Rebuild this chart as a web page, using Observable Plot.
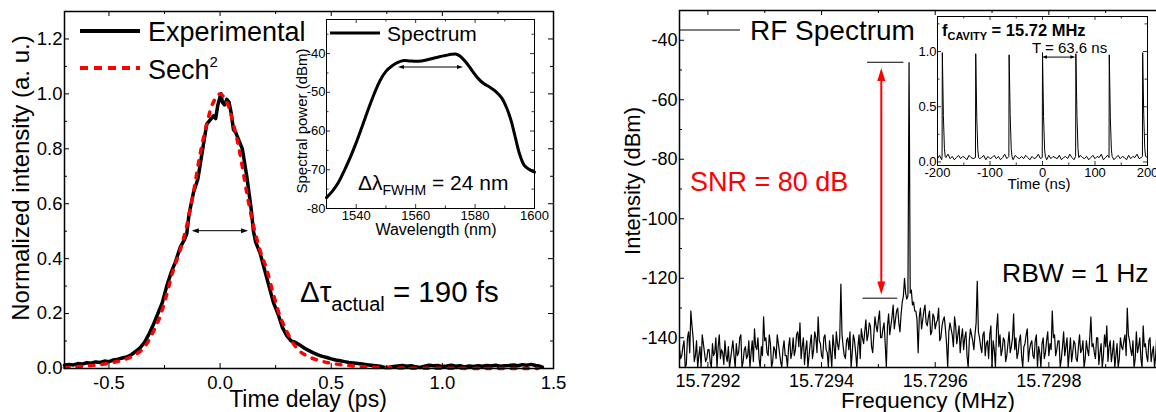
<!DOCTYPE html>
<html>
<head>
<meta charset="utf-8">
<script src="https://cdn.jsdelivr.net/npm/d3@7"></script>
<script src="https://cdn.jsdelivr.net/npm/@observablehq/plot@0.6"></script>
<style>
  html, body { margin: 0; padding: 0; background: #fff; overflow: hidden; }
  #wrap { position: relative; width: 1156px; height: 412px; overflow: hidden; background: #fff; }
  #wrap > svg { position: absolute; }
</style>
</head>
<body>
<div id="wrap"></div>
<script>
const FONT = '"Liberation Sans", Arial, Helvetica, sans-serif';

// ---------------- Left panel: autocorrelation trace ----------------
const acTime = [-0.70,-0.68,-0.66,-0.64,-0.62,-0.60,-0.58,-0.56,-0.54,-0.52,-0.50,-0.48,-0.46,-0.44,-0.42,-0.40,-0.38,-0.36,-0.34,-0.32,
  -0.30,-0.28,-0.26,-0.24,-0.22,-0.20,-0.18,-0.16,-0.15,-0.14,-0.12,-0.10,-0.09,-0.08,-0.06,-0.04,-0.03,-0.02,-0.01,0.00,0.005,
  0.01,0.02,0.03,0.04,0.05,0.06,0.07,0.08,0.10,0.12,0.14,0.15,0.16,0.18,0.20,0.22,0.24,0.26,0.28,0.30,0.32,0.34,0.36,0.38,
  0.40,0.42,0.44,0.46,0.48,0.50,0.52,0.54,0.56,0.58,0.60,0.62,0.64,0.66,0.68,0.70,0.72,0.74,0.76,0.78,0.80,0.82,0.84,0.86,0.88,
  0.90,0.92,0.94,0.96,0.98,1.00,1.02,1.04,1.06,1.08,1.10,1.12,1.14,1.16,1.18,1.20,1.22,1.24,1.26,1.28,1.30,1.32,1.34,1.36,1.38,
  1.40,1.42,1.44,1.45];
const acExp = [0.012,0.015,0.013,0.018,0.016,0.021,0.019,0.024,0.022,0.027,0.025,0.031,0.034,0.038,0.042,0.050,0.062,0.075,0.095,0.125,
  0.16,0.20,0.24,0.30,0.35,0.39,0.44,0.47,0.49,0.56,0.64,0.69,0.74,0.79,0.89,0.91,0.92,0.91,0.96,0.99,1.00,
  0.97,0.96,0.98,0.97,0.93,0.87,0.86,0.84,0.80,0.70,0.58,0.50,0.46,0.42,0.36,0.30,0.24,0.20,0.15,0.12,0.10,0.095,0.085,0.074,
  0.065,0.057,0.050,0.044,0.040,0.035,0.031,0.028,0.025,0.022,0.020,0.018,0.016,0.014,0.012,0.010,0.008,0.004,0.005,0.007,0.009,0.011,0.008,0.010,0.006,
  0.004,0.008,0.012,0.010,0.011,0.007,0.009,0.012,0.008,0.010,0.006,0.009,0.007,0.010,0.008,0.011,0.009,0.012,0.008,0.010,0.011,0.013,0.010,0.014,0.012,
  0.015,0.011,0.008,0.005];
const fitTime = [-0.70,-0.65,-0.60,-0.55,-0.50,-0.45,-0.40,-0.36,-0.33,-0.30,-0.27,-0.24,-0.21,-0.18,-0.15,-0.12,-0.09,-0.06,-0.03,0.00,
  0.03,0.06,0.09,0.12,0.15,0.18,0.21,0.24,0.27,0.30,0.33,0.36,0.40,0.45,0.50,0.55,0.60,0.65,0.70,0.80,0.90,1.00,1.20,1.43];
const fitSech = [0.004,0.006,0.009,0.013,0.019,0.028,0.042,0.062,0.090,0.135,0.19,0.27,0.36,0.43,0.52,0.64,0.78,0.89,0.97,1.00,
  0.97,0.89,0.78,0.64,0.52,0.43,0.36,0.27,0.19,0.135,0.090,0.062,0.042,0.028,0.019,0.013,0.009,0.006,0.004,0.002,0.001,0.001,0.000,0.000];
const acXTicks = [-0.5, 0.0, 0.5, 1.0, 1.5];
const acXMinor = [-0.25, 0.25, 0.75, 1.25];
const acYTicks = [0.0, 0.2, 0.4, 0.6, 0.8, 1.0, 1.2];
const acYMinor = [0.1, 0.3, 0.5, 0.7, 0.9, 1.1];
const acFwhm = {x1: -0.125, x2: 0.128, y: 0.5};

// ---------------- Left inset: optical spectrum ----------------
const specWl = [1530,1532,1534,1536,1538,1540,1542,1544,1546,1548,1550,1552,1554,1556,1558,1560,1562,1564,1566,1568,1570,1572,1573.5,
  1575,1577,1579,1581,1583,1585,1587,1589,1590.5,1592,1593.5,1595,1596.5,1598,1600];
const specDb = [-77.2,-75.5,-73.3,-70.2,-66.8,-63.0,-58.8,-54.5,-50.5,-47.0,-44.6,-43.2,-42.3,-41.8,-41.9,-42.0,-41.9,-41.6,-41.2,-40.8,-40.5,-40.2,-40.1,
  -40.7,-42.3,-44.4,-46.4,-47.8,-48.7,-49.8,-51.5,-53.8,-57.0,-61.5,-66.0,-68.8,-69.8,-70.6];
const specXTicks = [1540, 1560, 1580, 1600];
const specXMinor = [1550, 1570, 1590];
const specYTicks = [-80, -70, -60, -50, -40];
const specYMinor = [-75, -65, -55, -45, -35];
const specFwhm = {x1: 1554.2, x2: 1576.1, y: -43.6};

// ---------------- Right panel: RF spectrum ----------------
// samples every 2 Hz from 15.72915 MHz: rfDb holds the even samples, rfMid the samples in between
const rfStart = 15.72915, rfStep = 0.000002;
const rfDb = [
  -144,-146,-141,-149,-138,-131,-140,-146,-150,-143,-139,-145,-147,
  -144,-150,-146,-140,-143,-147,-145,-141,-148,-150,-144,-146,
  -142,-145,-139,-148,-143,-146,-150,-141,-137,-144,-147,-143,
  -133,-140,-146,-142,-148,-144,-139,-145,-150,-141,-146,-143,-147,
  -140,-144,-138,-135,-143,-149,-141,-146,-139,-144,-140,-133,
  -142,-147,-139,-145,-141,-150,-143,-138,-144,
  -122,
  -143,-147,-140,-138,-145,-141,-150,-139,-137,
  -142,-134,-139,-136,-145,-133,-138,-131,-140,-135,-150,-132,
  -136,-129,-134,-130,-138,
  -128,-120,-127,-47.5,-124,-128,
  -131,-145,-130,-134,-129,-136,-131,-138,-133,-135,-130,-140,-134,-137,-150,
  -135,-139,-133,-142,-136,-140,-144,-138,-150,-137,-141,-139,
  -121,
  -140,-145,-138,-142,-147,-136,-141,-150,-132,-139,-144,-141,-146,-138,-143,
  -132,-140,-145,-139,-150,-142,-137,-144,-141,-147,-139,-143,-150,-140,-145,-138,-142,
  -131,
  -139,-144,-141,-147,-138,-143,-150,-140,-145,-142,-148,-139,-144,-150,-141,-146,
  -133,
  -142,-147,-140,-145,-150,-139,-136,-143,-148,-141,-146,-150,-140,-144,-139,
  -130,
  -141,-146,-150,-138,-143,-147,-136,-142,-148,-140,-145,-150,-139,-144,-141];
const rfMid = [
  -147,-143,-150,-140,-145,-136,-148,-141,-146,-150,-142,-148,-144,
  -148,-142,-145,-150,-139,-144,-149,-146,-143,-147,-141,-150,
  -146,-140,-150,-144,-147,-141,-145,-148,-143,-140,-150,-146,
  -141,-145,-139,-150,-143,-147,-142,-148,-144,-146,-150,-140,-145,
  -146,-139,-143,-147,-140,-144,-150,-142,-147,-138,-145,-141,
  -146,-140,-144,-150,-145,-139,-147,-142,-140,
  -139,
  -146,-141,-144,-150,-139,-145,-143,-147,-140,
  -138,-141,-135,-143,-139,-136,-134,-140,-137,-142,-136,-139,
  -133,-137,-131,-135,-132,
  -126,-125,-126,-125,-129,-131,
  -134,-133,-137,-131,-135,-133,-139,-132,-137,-134,-141,-136,-133,-142,-138,
  -137,-143,-136,-139,-145,-137,-140,-146,-141,-139,-144,-135,
  -138,
  -143,-139,-146,-141,-139,-150,-144,-137,-143,-146,-140,-148,-142,-145,-140,
  -144,-147,-141,-146,-143,-139,-148,-142,-146,-141,-150,-145,-142,-147,-141,-146,-144,
  -140,
  -146,-141,-150,-143,-146,-140,-145,-148,-141,-147,-143,-145,-141,-147,-144,-140,
  -143,
  -145,-140,-149,-142,-146,-143,-148,-141,-145,-150,-142,-147,-143,-141,-146,
  -139,
  -144,-141,-147,-145,-140,-150,-143,-146,-141,-148,-143,-146,-150,-142];
const rfXTicks = [15.7292, 15.7294, 15.7296, 15.7298];
const rfXMinor = [15.7293, 15.7295, 15.7297, 15.7299];
const rfYTicks = [-140, -120, -100, -80, -60, -40];
const rfYMinor = [-130, -110, -90, -70, -50];
const snrLines = [{y: -47.4, x1: 15.729481, x2: 15.729545}, {y: -126.7, x1: 15.729473, x2: 15.729534}];
const snrArrow = {x: 15.729506, y1: -49.5, y2: -125.6};

// ---------------- Right inset: pulse train ----------------
const ptStart = -200, ptStep = 4;
const ptBase = [0.03,0.06,0.02,0.05,0.04,0.07,0.03,0.05,0.02,0.04,
  0.06,0.03,0.05,0.04,0.02,0.06,0.04,0.03,0.05,0.07,
  0.03,0.04,0.06,0.02,0.05,0.03,0.04,0.06,0.03,0.05,
  0.02,0.04,0.07,0.03,0.05,0.04,0.02,0.06,0.04,0.03,
  0.05,0.03,0.06,0.04,0.02,0.05,0.03,0.04,0.07,0.03,
  0.05,0.04,0.02,0.06,0.03,0.05,0.04,0.03,0.06,0.02,
  0.04,0.05,0.03,0.07,0.04,0.02,0.05,0.03,0.06,0.04,
  0.03,0.05,0.02,0.04,0.06,0.03,0.05,0.04,0.07,0.02,
  0.04,0.06,0.03,0.05,0.02,0.04,0.06,0.03,0.05,0.04,
  0.02,0.06,0.03,0.05,0.04,0.07,0.03,0.04,0.06,0.02,
  0.04];
const ptPeakT = [-191.3,-190.8,-188.8,-186.8,-185.3, -127.7,-127.2,-125.2,-123.2,-121.7, -64.1,-63.6,-61.6,-59.6,-58.1,
  -0.5,0,2,4,5.5, 63.1,63.6,65.6,67.6,69.1, 126.7,127.2,129.2,131.2,132.7, 190.3,190.8,192.8,194.8,196.3];
const ptPeakV = [0.05,0.99,0.42,0.12,0.05, 0.04,0.98,0.40,0.11,0.04, 0.05,0.97,0.43,0.12,0.05,
  0.04,0.99,0.41,0.11,0.05, 0.05,0.98,0.42,0.12,0.04, 0.04,0.97,0.40,0.11,0.05, 0.05,0.99,0.43,0.12,0.05];
const ptXTicks = [-200, -100, 0, 100, 200];
const ptXMinor = [-150, -50, 50, 150];
const ptYTicks = [0.0, 0.5, 1.0];
const ptYMinor = [0.25, 0.75, 1.25];
const periodArrow = {x1: 0, x2: 63.6, y: 0.945};

// ---------------- helpers ----------------
const wrap = document.getElementById("wrap");
function place(svg, left, top) {
  svg.style.position = "absolute";
  svg.style.left = left + "px";
  svg.style.top = top + "px";
  wrap.appendChild(svg);
  return svg;
}
function frameTicks(plotW, plotH, xMaj, xMin, yMaj, yMin, maj, min, sw) {
  const o = {stroke: "#000", strokeWidth: sw};
  return [
    Plot.tickX(xMaj, {...o, x: d => d, insetTop: plotH - maj}),
    Plot.tickX(xMaj, {...o, x: d => d, insetBottom: plotH - maj}),
    Plot.tickX(xMin, {...o, x: d => d, insetTop: plotH - min}),
    Plot.tickX(xMin, {...o, x: d => d, insetBottom: plotH - min}),
    Plot.tickY(yMaj, {...o, y: d => d, insetRight: plotW - maj}),
    Plot.tickY(yMaj, {...o, y: d => d, insetLeft: plotW - maj}),
    Plot.tickY(yMin, {...o, y: d => d, insetRight: plotW - min}),
    Plot.tickY(yMin, {...o, y: d => d, insetLeft: plotW - min})
  ];
}
function dblArrow(svg, a, opt) {
  const sx = svg.scale("x"), sy = svg.scale("y");
  const x1 = sx.apply(a.x1 ?? a.x), x2 = sx.apply(a.x2 ?? a.x);
  const y1 = sy.apply(a.y1 ?? a.y), y2 = sy.apply(a.y2 ?? a.y);
  const ang = Math.atan2(y2 - y1, x2 - x1), ux = Math.cos(ang), uy = Math.sin(ang);
  const Lh = opt.len, W = opt.w;
  const g = d3.select(svg).append("g");
  g.append("line").attr("x1", x1 + ux * Lh * 0.7).attr("y1", y1 + uy * Lh * 0.7)
    .attr("x2", x2 - ux * Lh * 0.7).attr("y2", y2 - uy * Lh * 0.7)
    .attr("stroke", opt.color).attr("stroke-width", opt.sw);
  const head = (tx, ty, dx, dy) => {
    const bx = tx - dx * Lh, by = ty - dy * Lh, px = -dy * W / 2, py = dx * W / 2;
    g.append("path").attr("d", `M${tx},${ty}L${bx + px},${by + py}L${bx - px},${by - py}Z`).attr("fill", opt.color);
  };
  head(x1, y1, -ux, -uy);
  head(x2, y2, ux, uy);
}
const baseStyle = (fs) => ({background: "transparent", fontFamily: FONT, fontSize: fs, color: "#000", overflow: "visible"});

// ---------------- Left main plot ----------------
const left = Plot.plot({
  width: 580, height: 412, marginLeft: 64, marginRight: 27, marginTop: 11, marginBottom: 44,
  style: baseStyle("18.5px"),
  x: {domain: [-0.7, 1.5]}, y: {domain: [0, 1.3]},
  marks: [
    Plot.lineY(acExp, {x: acTime, stroke: "#000", strokeWidth: 3.5}),
    Plot.lineY(fitSech, {x: fitTime, stroke: "#ff0000", strokeWidth: 3.5, strokeDasharray: "4.5,8", curve: "catmull-rom"}),
    ...frameTicks(489, 357, acXTicks, acXMinor, acYTicks, acYMinor, 5, 3, 1),
    Plot.frame({stroke: "#000", strokeWidth: 1.5}),
    Plot.axisX(acXTicks, {tickFormat: d => d.toFixed(1), tickSize: 0, tickPadding: 7, label: null}),
    Plot.axisY(acYTicks, {tickFormat: d => d.toFixed(1), tickSize: 0, tickPadding: 2, label: null})
  ]
});
place(left, 0, 0);
dblArrow(left, acFwhm, {color: "#000", sw: 1, len: 7, w: 5});

// ---------------- Left inset ----------------
const linset = Plot.plot({
  width: 280, height: 250, marginLeft: 56, marginRight: 16, marginTop: 19, marginBottom: 42,
  style: baseStyle("13px"),
  x: {domain: [1530, 1600]}, y: {domain: [-80, -31.2]},
  marks: [
    Plot.lineY(specDb, {x: specWl, stroke: "#000", strokeWidth: 3, curve: "catmull-rom"}),
    ...frameTicks(208, 189, specXTicks, specXMinor, specYTicks, specYMinor, 4, 2.5, 0.8),
    Plot.frame({stroke: "#000", strokeWidth: 1}),
    Plot.axisX(specXTicks, {tickFormat: d => String(d), tickSize: 0, tickPadding: 2, label: null}),
    Plot.axisY(specYTicks, {tickFormat: d => String(d), tickSize: 0, tickPadding: 1, label: null})
  ]
});
place(linset, 270, 0);
dblArrow(linset, specFwhm, {color: "#000", sw: 1, len: 6, w: 4});

// ---------------- Right main plot ----------------
const rfAll = rfDb.flatMap((v, i) => i < rfMid.length ? [v, rfMid[i]] : [v]);
const rfFreq = rfAll.map((_, i) => rfStart + i * rfStep);
const right = Plot.plot({
  width: 600, height: 412, marginLeft: 79, marginRight: 38, marginTop: 10, marginBottom: 45,
  style: baseStyle("18px"),
  x: {domain: [15.72915, 15.7300]}, y: {domain: [-150, -30]},
  marks: [
    Plot.lineY(rfAll, {x: rfFreq, stroke: "#000", strokeWidth: 1.2, clip: true}),
    Plot.ruleY(snrLines, {y: "y", x1: "x1", x2: "x2", stroke: "#000", strokeWidth: 1}),
    ...frameTicks(483, 357, rfXTicks, rfXMinor, rfYTicks, rfYMinor, 5, 3, 1),
    Plot.frame({stroke: "#000", strokeWidth: 1.5}),
    Plot.axisX(rfXTicks, {tickFormat: d => d.toFixed(4), tickSize: 0, tickPadding: 7, label: null}),
    Plot.axisY(rfYTicks, {tickFormat: d => String(d), tickSize: 0, tickPadding: 2, label: null})
  ]
});
place(right, 600, 0);
dblArrow(right, snrArrow, {color: "#ff0000", sw: 2, len: 13, w: 8});

// ---------------- Right inset ----------------
const peakWins = [];
for (let k = 0; k < ptPeakT.length; k += 5) peakWins.push([ptPeakT[k] - 0.6, ptPeakT[k + 4] + 0.6]);
const ptPts = ptBase.map((v, i) => ({t: ptStart + i * ptStep, v}))
  .filter(p => !peakWins.some(([a, b]) => p.t > a && p.t < b))
  .concat(ptPeakT.map((t, i) => ({t, v: ptPeakV[i]})))
  .sort((a, b) => a.t - b.t);
const rinset = Plot.plot({
  width: 256, height: 200, marginLeft: 37, marginRight: 9, marginTop: 16, marginBottom: 35,
  style: baseStyle("13px"),
  x: {domain: [-200, 200]}, y: {domain: [-0.032, 1.317]},
  marks: [
    Plot.line(ptPts, {x: "t", y: "v", stroke: "#000", strokeWidth: 1, clip: true}),
    ...frameTicks(210, 149, ptXTicks, ptXMinor, ptYTicks, ptYMinor, 4, 2.5, 0.8),
    Plot.frame({stroke: "#000", strokeWidth: 1}),
    Plot.axisX(ptXTicks, {tickFormat: d => String(d), tickSize: 0, tickPadding: 2, label: null}),
    Plot.axisY(ptYTicks, {tickFormat: d => d.toFixed(1), tickSize: 0, tickPadding: 1, label: null})
  ]
});
place(rinset, 900, 0);
dblArrow(rinset, periodArrow, {color: "#000", sw: 1, len: 5, w: 3.5});

// ---------------- Text / legend overlay ----------------
const ov = d3.select(wrap).append("svg").attr("width", 1156).attr("height", 412)
  .style("position", "absolute").style("left", "0px").style("top", "0px")
  .style("font-family", FONT).style("white-space", "pre").style("pointer-events", "none");
function txt(x, y, parts, opt = {}) {
  const t = ov.append("text").attr("x", x).attr("y", y).attr("font-size", opt.size).attr("fill", opt.fill || "#000");
  if (opt.weight) t.attr("font-weight", opt.weight);
  if (opt.anchor) t.attr("text-anchor", opt.anchor);
  if (opt.dy) t.attr("dy", opt.dy);
  if (opt.rotate) t.attr("transform", `rotate(${opt.rotate},${x},${y})`);
  if (typeof parts === "string") t.text(parts);
  else parts.forEach(p => t.append("tspan").attr("font-size", p.size || opt.size).attr("dy", p.dy || 0).text(p.t));
  return t;
}
function seg(x1, y1, x2, y2, color, w, dash) {
  const l = ov.append("line").attr("x1", x1).attr("y1", y1).attr("x2", x2).attr("y2", y2).attr("stroke", color).attr("stroke-width", w);
  if (dash) l.attr("stroke-dasharray", dash);
}

// left panel legend
seg(80, 31, 140, 31, "#000", 4);
txt(148, 41, "Experimental", {size: 27});
seg(80, 68, 140, 68, "#ff0000", 4, "8,6");
txt(148, 79, [{t: "Sech"}, {t: "2", size: 15, dy: -12}], {size: 27});
// left inset legend
seg(330, 33, 380, 33, "#000", 3);
txt(387, 41, "Spectrum", {size: 21});
txt(358, 190, [{t: "Δλ"}, {t: "FWHM", size: 14, dy: 5}, {t: " = 24 nm", dy: -5}], {size: 21});
txt(300, 302, [{t: "Δτ"}, {t: "actual", size: 20, dy: 9}, {t: " = 190 fs", dy: -9}], {size: 29.5});
// left axis titles
txt(21, 178, "Normalized intensity (a. u.)", {size: 24, anchor: "middle", rotate: -90, dy: "0.35em"});
txt(308, 407, "Time delay (ps)", {size: 23, anchor: "middle"});
txt(302, 121, "Spectral power (dBm)", {size: 15, anchor: "middle", rotate: -90, dy: "0.35em"});
txt(436, 235, "Wavelength (nm)", {size: 16, anchor: "middle"});

// right panel
seg(680, 30, 740, 30, "#000", 1.2);
txt(750, 40, "RF Spectrum", {size: 28});
txt(690, 191, "SNR = 80 dB", {size: 27, fill: "#ff0000"});
txt(1002, 282, "RBW = 1 Hz", {size: 26.5});
txt(632, 181, "Intensity (dBm)", {size: 22, anchor: "middle", rotate: -90, dy: "0.35em"});
txt(928, 408, "Frequency (MHz)", {size: 22.5, anchor: "middle"});
// right inset
txt(942, 36, [{t: "f"}, {t: "CAVITY", size: 11, dy: 4}, {t: " = 15.72 MHz", dy: -4}], {size: 16.5, weight: "bold"});
txt(1032, 53, "T = 63.6 ns", {size: 15});
txt(1039, 189, "Time (ns)", {size: 15, anchor: "middle"});
</script>
</body>
</html>
